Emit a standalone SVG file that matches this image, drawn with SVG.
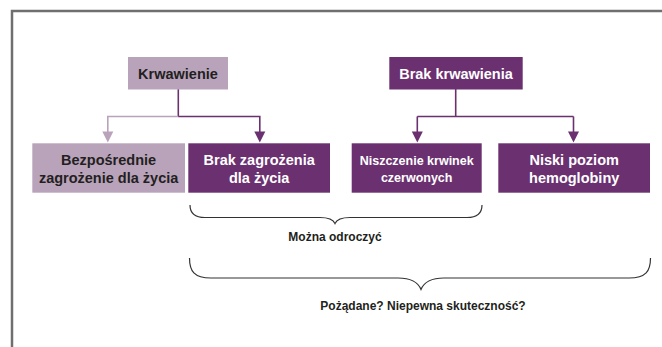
<svg xmlns="http://www.w3.org/2000/svg" width="662" height="347" viewBox="0 0 662 347">
  <style>
    .frame { fill: none; stroke: #6f6f6f; stroke-width: 2.5; }
    .light { fill: #b9a3bb; }
    .dark { fill: #6b3070; }
    .t { font-family: "Liberation Sans", Arial, sans-serif; font-weight: bold; text-anchor: middle; }
    .box-t { font-size: 14.5px; }
    .small-t { font-size: 12.5px; }
    .on-light { fill: #231f20; }
    .on-dark { fill: #ffffff; }
    .label { font-size: 12px; fill: #231f20; }
    .ln-light { fill: none; stroke: #b9a3bb; stroke-width: 1.6; }
    .ln-dark { fill: none; stroke: #6b3070; stroke-width: 1.6; }
    .head-light { fill: #b9a3bb; }
    .head-dark { fill: #6b3070; }
    .brace { fill: none; stroke: #333333; stroke-width: 1.2; }
  </style>

  <rect width="662" height="347" fill="#ffffff"/>
  <path class="frame" d="M12,347 L12,11 L662,11"/>

  <!-- connectors: tree lines with triangular heads, plus the two braces -->
  <g id="connectors">
    <path class="ln-dark" d="M178.3,89 L178.3,116.5"/>
    <path class="ln-light" d="M178.3,116.5 L107.8,116.5 L107.8,132"/>
    <path class="head-light" d="M102.3,131.5 L113.3,131.5 L107.8,142.5 Z"/>
    <path class="ln-dark" d="M178.3,116.5 L259.8,116.5 L259.8,132"/>
    <path class="head-dark" d="M254.3,131.5 L265.3,131.5 L259.8,142.5 Z"/>

    <path class="ln-dark" d="M455.7,89 L455.7,116.5 M417.3,116.5 L573.5,116.5 M417.3,116.5 L417.3,132 M573.5,116.5 L573.5,132"/>
    <path class="head-dark" d="M411.8,131.5 L422.8,131.5 L417.3,142.5 Z"/>
    <path class="head-dark" d="M568,131.5 L579,131.5 L573.5,142.5 Z"/>

    <path class="brace" d="M190,205 C190,213 194,217.5 205,217.5 L320,217.5 C328,217.5 333,219 335,223.5 C337,219 342,217.5 350,217.5 L467,217.5 C478,217.5 482,213 482,205"/>
    <path class="brace" d="M189.5,258 C189.5,271 194,278 211,278 L398,278 C411,278 418,282 421,289.5 C424,282 431,278 444,278 L629,278 C646,278 650.5,271 650.5,258"/>
  </g>

  <!-- top nodes -->
  <g id="krwawienie">
    <rect class="light" x="128" y="57" width="100" height="32.5"/>
    <text class="t box-t on-light" x="178" y="79">Krwawienie</text>
  </g>
  <g id="brak-krwawienia">
    <rect class="dark" x="389.3" y="57" width="133.4" height="32.5"/>
    <text class="t box-t on-dark" x="456" y="79">Brak krwawienia</text>
  </g>

  <!-- bottom nodes -->
  <g id="bezposrednie">
    <rect class="light" x="32.3" y="143.3" width="152.7" height="49.4"/>
    <text class="t box-t on-light" x="108.6" y="165">Bezpośrednie</text>
    <text class="t box-t on-light" x="108.6" y="182.5">zagrożenie dla życia</text>
  </g>
  <g id="brak-zagrozenia">
    <rect class="dark" x="188.3" y="143.3" width="141.7" height="49.4"/>
    <text class="t box-t on-dark" x="259.2" y="165">Brak zagrożenia</text>
    <text class="t box-t on-dark" x="259.2" y="182.5">dla życia</text>
  </g>
  <g id="niszczenie">
    <rect class="dark" x="351.7" y="143.3" width="130" height="49.4"/>
    <text class="t small-t on-dark" x="416.7" y="164.5">Niszczenie krwinek</text>
    <text class="t small-t on-dark" x="416.7" y="181.5">czerwonych</text>
  </g>
  <g id="niski-poziom">
    <rect class="dark" x="498.3" y="143.3" width="151.7" height="49.4"/>
    <text class="t box-t on-dark" x="574.2" y="165">Niski poziom</text>
    <text class="t box-t on-dark" x="574.2" y="182.5">hemoglobiny</text>
  </g>

  <!-- brace labels -->
  <g id="label-odroczyc">
    <text class="t label" x="335" y="241">Można odroczyć</text>
  </g>
  <g id="label-pozadane">
    <text class="t label" x="423" y="309.5">Pożądane? Niepewna skuteczność?</text>
  </g>
</svg>
